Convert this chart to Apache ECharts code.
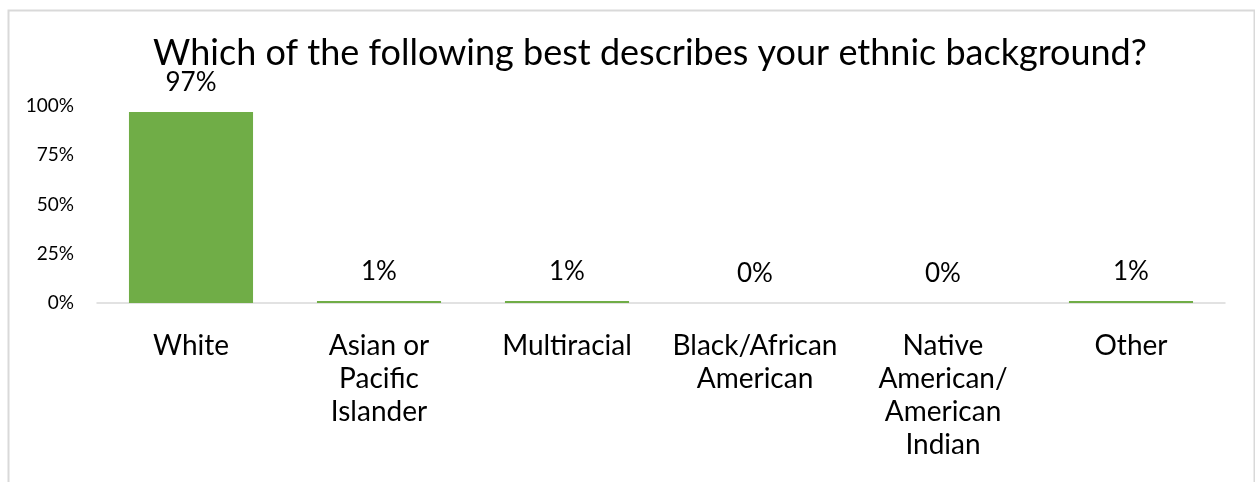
<!DOCTYPE html>
<html>
<head>
<meta charset="utf-8">
<script src="https://cdn.jsdelivr.net/npm/echarts@6/dist/echarts.min.js"></script>
<style>
html,body{margin:0;padding:0;background:#fff;}
#chart{width:1255px;height:482px;}
</style>
</head>
<body>
<div id="chart"></div>
<script>
const titleText = 'Which of the following best describes your ethnic background?';
const categories = ['White', 'Asian or\nPacific\nIslander', 'Multiracial', 'Black/African\nAmerican', 'Native\nAmerican/\nAmerican\nIndian', 'Other'];
const values = [0.97, 0.01, 0.01, 0, 0, 0.01];
const yTicks = [0, 0.25, 0.5, 0.75, 1];

const FONT = 'Lato, "Open Sans", sans-serif';
const chart = echarts.init(document.getElementById('chart'));
chart.setOption({
  animation: false,
  backgroundColor: '#fff',
  title: {
    text: titleText,
    left: 645, top: 30, textAlign: 'center',
    textStyle: {fontFamily: FONT, fontSize: 36, fontWeight: 'normal', color: '#000'}
  },
  graphic: [{
    type: 'rect', left: 6, top: 8,
    shape: {x: 0, y: 0, width: 1246, height: 520},
    style: {fill: 'none', stroke: '#d9d9d9', lineWidth: 2}, silent: true
  }],
  grid: {left: 97, right: 30, top: 106, bottom: 179},
  xAxis: {
    type: 'category', data: categories,
    axisLine: {lineStyle: {color: '#d9d9d9', width: 1.5}},
    axisTick: {show: false},
    axisLabel: {fontFamily: FONT, fontSize: 28, color: '#000', lineHeight: 33, margin: 26, interval: 0}
  },
  yAxis: {
    type: 'value', min: 0, max: 1, interval: 0.25,
    splitLine: {show: false},
    axisLine: {show: false}, axisTick: {show: false},
    axisLabel: {fontFamily: FONT, fontSize: 19, color: '#000', margin: 23,
      formatter: v => yTicks.includes(v) ? Math.round(v * 100) + '%' : ''}
  },
  series: [{
    type: 'bar', data: values, barWidth: '66%',
    itemStyle: {color: '#70ad47'},
    label: {show: true, position: 'top', distance: 16, fontFamily: FONT, fontSize: 26, color: '#000',
      formatter: p => Math.round(p.value * 100) + '%'}
  }]
});
</script>
</body>
</html>
